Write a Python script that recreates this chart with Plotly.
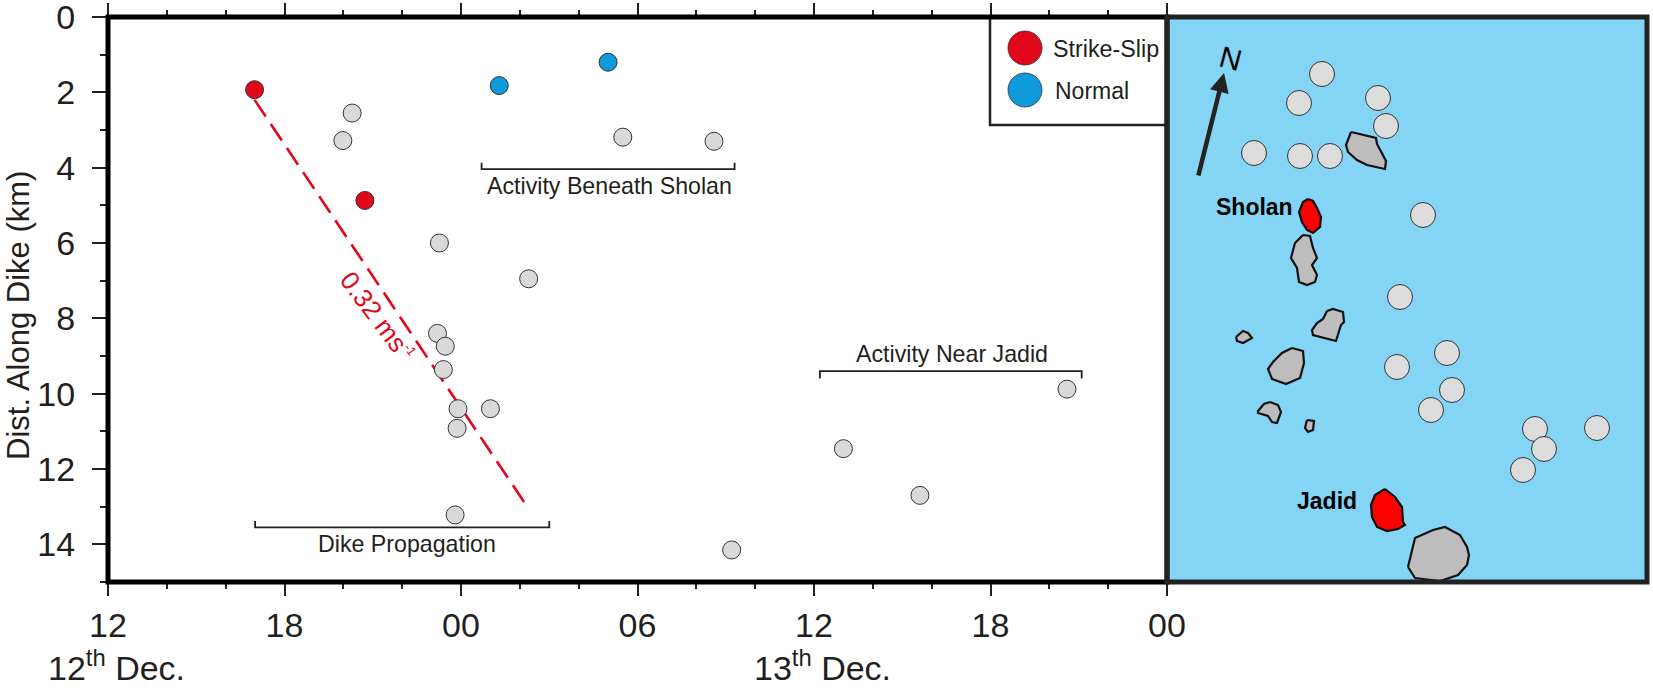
import plotly.graph_objects as go

W, H = 1653, 688
FONT = "Liberation Sans"
INK = "#231f20"

# --- main panel data (time, distance along dike in km)
strike_t = ["2011-12-12 16:59", "2011-12-12 20:44"]
strike_d = [1.93, 4.87]
normal_t = ["2011-12-13 01:18", "2011-12-13 05:00"]
normal_d = [1.82, 1.2]
other_t = ["2011-12-12 20:18", "2011-12-12 19:59", "2011-12-13 05:30", "2011-12-13 08:36",
           "2011-12-12 23:16", "2011-12-13 02:18", "2011-12-12 23:12", "2011-12-12 23:28",
           "2011-12-12 23:24", "2011-12-12 23:54", "2011-12-13 01:00", "2011-12-12 23:52",
           "2011-12-12 23:48", "2011-12-13 09:12", "2011-12-13 13:00", "2011-12-13 15:36",
           "2011-12-13 20:36"]
other_d = [2.55, 3.28, 3.19, 3.3, 6.0, 6.95, 8.4, 8.74, 9.36, 10.4, 10.4, 10.92, 13.22, 14.15, 11.46, 12.7, 9.88]
fit_t = ["2011-12-12 16:59", "2011-12-13 02:12"]
fit_d = [2.2, 12.94]

dike_t = ["2011-12-12 17:00", "2011-12-12 17:00", "2011-12-13 03:00", "2011-12-13 03:00"]
dike_d = [13.38, 13.55, 13.55, 13.38]
sholan_t = ["2011-12-13 00:42", "2011-12-13 00:42", "2011-12-13 09:18", "2011-12-13 09:18"]
sholan_d = [3.87, 4.04, 4.04, 3.87]
jadid_t = ["2011-12-13 12:12", "2011-12-13 12:12", "2011-12-13 21:06", "2011-12-13 21:06"]
jadid_d = [9.6, 9.4, 9.4, 9.6]

# --- map panel data (map units)
map_x = [1322, 1299, 1378, 1386, 1254, 1300, 1330, 1423, 1400, 1447, 1397, 1452, 1431, 1535, 1544, 1523, 1597]
map_y = [74, 103, 98, 126, 153, 156, 156, 215, 297, 353, 367, 390, 410, 429, 449, 470, 428]

isl_a_x = [1351, 1376, 1377, 1386, 1385, 1367, 1357, 1348, 1346]
isl_a_y = [132, 138, 144, 161, 169, 165, 160, 152, 145]
isl_b_x = [1303, 1310, 1313, 1317, 1312, 1317, 1315, 1307, 1299, 1297, 1291, 1295]
isl_b_y = [235, 236, 248, 258, 265, 275, 282, 285, 282, 268, 258, 243]
isl_c_x = [1327, 1333, 1343, 1344, 1341, 1336, 1313, 1312, 1317, 1323]
isl_c_y = [311, 309, 312, 322, 325, 341, 335, 330, 323, 319]
isl_d_x = [1236, 1243, 1248, 1252, 1243, 1237]
isl_d_y = [337, 331, 333, 338, 343, 341]
isl_e_x = [1292, 1303, 1304, 1300, 1286, 1272, 1268, 1273, 1282]
isl_e_y = [348, 351, 363, 378, 384, 379, 369, 362, 353]
isl_f_x = [1270, 1278, 1281, 1277, 1272, 1268, 1258, 1258, 1264]
isl_f_y = [402, 405, 412, 423, 422, 416, 413, 411, 404]
isl_g_x = [1307, 1314, 1313, 1308, 1305]
isl_g_y = [420, 421, 430, 432, 428]
isl_h_x = [1408, 1415, 1433, 1445, 1460, 1467, 1469, 1467, 1458, 1440, 1415]
isl_h_y = [567, 538, 530, 527, 535, 547, 555, 565, 575, 581, 578]
sholan_x = [1308, 1313, 1317, 1321, 1320, 1313, 1307, 1302, 1299, 1303]
sholan_y = [199, 201, 208, 217, 227, 233, 230, 222, 212, 202]
jadid_x = [1385, 1395, 1402, 1403, 1405, 1398, 1387, 1377, 1372, 1371, 1375]
jadid_y = [489, 497, 507, 522, 525, 529, 531, 527, 517, 505, 495]

grey_islands = [(isl_a_x, isl_a_y), (isl_b_x, isl_b_y), (isl_c_x, isl_c_y), (isl_d_x, isl_d_y),
                (isl_e_x, isl_e_y), (isl_f_x, isl_f_y), (isl_g_x, isl_g_y), (isl_h_x, isl_h_y)]
red_islands = [(sholan_x, sholan_y), (jadid_x, jadid_y)]


def px(x):
    return x / W


def py(y):
    return 1 - y / H


PLOT_L, PLOT_R, PLOT_T, PLOT_B = 108, 1167, 17, 582
MAP_R = 1647

fig = go.Figure()


def pts(x, y, color, name):
    fig.add_trace(go.Scatter(x=x, y=y, mode="markers", name=name, showlegend=False,
                             marker=dict(size=18, color=color, line=dict(color="#333333", width=1))))


def island(ix, iy, color):
    fig.add_trace(go.Scatter(x=ix + ix[:1], y=iy + iy[:1], xaxis="x2", yaxis="y2", mode="lines", fill="toself",
                             fillcolor=color, showlegend=False,
                             line=dict(color="#111111", width=2.2)))


fig.add_trace(go.Scatter(x=fit_t, y=fit_d, mode="lines", showlegend=False,
                         line=dict(color="#e2061a", width=2.6, dash="20px,9px")))
for bx, by in [(dike_t, dike_d), (sholan_t, sholan_d), (jadid_t, jadid_d)]:
    fig.add_trace(go.Scatter(x=bx, y=by, mode="lines", showlegend=False,
                             line=dict(color=INK, width=1.8)))
pts(other_t, other_d, "#d9d9d9", "Other")
pts(strike_t, strike_d, "#e2061a", "Strike-Slip")
pts(normal_t, normal_d, "#0e9adb", "Normal")

for ix, iy in grey_islands:
    island(ix, iy, "#bdbdbd")
for ix, iy in red_islands:
    island(ix, iy, "#ff0000")
fig.add_trace(go.Scatter(x=map_x, y=map_y, xaxis="x2", yaxis="y2", mode="markers", showlegend=False,
                         marker=dict(size=25, color="#dcdcdc", line=dict(color="#333333", width=1))))

tickfont = dict(family=FONT, size=34, color=INK)
fig.update_layout(
    width=W, height=H,
    margin=dict(l=0, r=0, t=0, b=0, pad=0),
    paper_bgcolor="white", plot_bgcolor="white",
    showlegend=False,
    font=dict(family=FONT, color=INK),
    xaxis=dict(
        type="date", domain=[px(PLOT_L), px(PLOT_R)],
        range=["2011-12-12 12:00", "2011-12-14 00:00"],
        tick0="2011-12-12 00:00", dtick=21600000, tickformat="%H",
        ticks="outside", ticklen=13, tickwidth=1.5, tickcolor=INK,
        minor=dict(dtick=7200000, ticks="outside", ticklen=6, tickwidth=1.5, tickcolor=INK),
        showgrid=False, zeroline=False, showline=False, mirror="ticks", automargin=False,
        tickfont=tickfont, ticklabelstandoff=0, ticklabeloverflow="allow", anchor="y",
    ),
    yaxis=dict(
        domain=[py(PLOT_B), py(PLOT_T)], range=[15, 0],
        tick0=0, dtick=2, ticks="outside", ticklen=15, tickwidth=1.5, tickcolor=INK,
        minor=dict(dtick=1, ticks="outside", ticklen=7, tickwidth=1.5, tickcolor=INK),
        showgrid=False, zeroline=False, showline=False, automargin=False,
        tickfont=tickfont, ticklabelstandoff=10, ticklabeloverflow="allow", anchor="x",
    ),
    xaxis2=dict(domain=[px(PLOT_R), px(MAP_R)], range=[PLOT_R, MAP_R], visible=False, anchor="y2"),
    yaxis2=dict(domain=[py(PLOT_B), py(PLOT_T)], range=[PLOT_B, PLOT_T], visible=False, anchor="x2"),
)

# frame, map background, legend box
shapes = [
    dict(type="rect", xref="paper", yref="paper", layer="below",
         x0=px(PLOT_R), x1=px(MAP_R), y0=py(PLOT_B), y1=py(PLOT_T),
         fillcolor="#83d4f5", line=dict(width=0)),
    dict(type="rect", xref="paper", yref="paper", layer="above",
         x0=px(990), x1=px(PLOT_R), y0=py(125), y1=py(PLOT_T),
         fillcolor="white", line=dict(color=INK, width=2.5)),
    dict(type="circle", xref="paper", yref="paper", layer="above",
         x0=px(1008), x1=px(1042), y0=py(65), y1=py(31),
         fillcolor="#e2061a", line=dict(color="#333333", width=0.8)),
    dict(type="circle", xref="paper", yref="paper", layer="above",
         x0=px(1008), x1=px(1042), y0=py(107), y1=py(73),
         fillcolor="#0e9adb", line=dict(color="#333333", width=0.8)),
    dict(type="rect", xref="paper", yref="paper", layer="above",
         x0=px(PLOT_L), x1=px(PLOT_R), y0=py(PLOT_B), y1=py(PLOT_T),
         line=dict(color="#000000", width=5)),
    dict(type="rect", xref="paper", yref="paper", layer="above",
         x0=px(PLOT_R), x1=px(MAP_R), y0=py(PLOT_B), y1=py(PLOT_T),
         line=dict(color="#222222", width=5)),
]
fig.update_layout(shapes=shapes)


def note_data(text, t, d, size=23.2, color=INK, angle=0):
    fig.add_annotation(text=text, x=t, y=d, xref="x", yref="y", showarrow=False, textangle=angle,
                       font=dict(family=FONT, size=size, color=color))


def note_px(text, x, y, size, color=INK, angle=0, bold=False, anchor="center"):
    fig.add_annotation(text=f"<b>{text}</b>" if bold else text, x=px(x), y=py(y), xref="paper", yref="paper",
                       showarrow=False, textangle=angle, xanchor=anchor, yanchor="middle",
                       font=dict(family=FONT, size=size, color=color))


note_data("Activity Beneath Sholan", "2011-12-13 05:02", 4.48)
note_data("Activity Near Jadid", "2011-12-13 16:42", 8.94)
note_data("Dike Propagation", "2011-12-12 22:10", 14.0)
note_data('0.32 ms<sup><span style="font-size:13px">-1</span></sup>', "2011-12-12 21:08", 7.95,
          size=26, color="#e2061a", angle=53)

note_px("Dist. Along Dike (km)", 19, 316, 31, angle=-90)
note_px("Strike-Slip", 1051, 49, 23.3, anchor="left")
note_px("Normal", 1053, 91, 23, anchor="left")
note_px("12<sup>th</sup> Dec.", 116, 665, 34)
note_px("13<sup>th</sup> Dec.", 822, 665, 34)

note_px("Sholan", 1254, 207, 23, color="#000000", bold=True)
note_px("Jadid", 1327, 501, 23, color="#000000", bold=True)

fig.add_annotation(x=1224, y=73, ax=1198, ay=177, xref="x2", yref="y2", axref="x2", ayref="y2",
                   text="", showarrow=True, arrowhead=2, arrowsize=0.85, arrowwidth=4.5, arrowcolor="#222222")
fig.add_annotation(x=1231, y=58, xref="x2", yref="y2", text="N", showarrow=False, textangle=15,
                   font=dict(family=FONT, size=30, color="#000000"))

fig.write_html("out.html", post_script="document.body.style.margin='0';",
               config={"displayModeBar": False})
